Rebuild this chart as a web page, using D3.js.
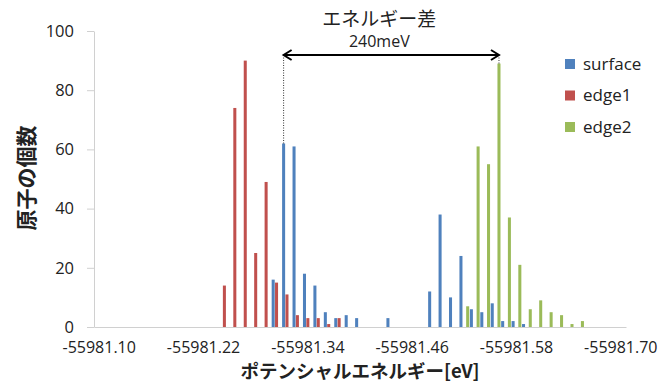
<!DOCTYPE html>
<html>
<head>
<meta charset="utf-8">
<script src="https://cdn.jsdelivr.net/npm/d3@7"></script>
<style>
  body { margin: 0; background: #fff; }
  svg { display: block; }
  text { font-family: "Open Sans", "Liberation Sans", sans-serif; fill: #222; }
  .jp { font-family: "Noto Sans CJK JP", "Noto Sans", sans-serif; }
</style>
</head>
<body>
<svg id="viz_area" width="665" height="382"></svg>
<script>
// ビンのエネルギー (eV)
const energies = [
  -55981.100, -55981.112, -55981.124, -55981.136, -55981.148, -55981.160,
  -55981.172, -55981.184, -55981.196, -55981.208, -55981.220, -55981.232,
  -55981.244, -55981.256, -55981.268, -55981.280, -55981.292, -55981.304,
  -55981.316, -55981.328, -55981.340, -55981.352, -55981.364, -55981.376,
  -55981.388, -55981.400, -55981.412, -55981.424, -55981.436, -55981.448,
  -55981.460, -55981.472, -55981.484, -55981.496, -55981.508, -55981.520,
  -55981.532, -55981.544, -55981.556, -55981.568, -55981.580, -55981.592,
  -55981.604, -55981.616, -55981.628, -55981.640, -55981.652, -55981.664,
  -55981.676, -55981.688, -55981.700
]
const tickLabels = ["-55981.10", "-55981.22", "-55981.34", "-55981.46", "-55981.58", "-55981.70"]
const yTicks = [0, 20, 40, 60, 80, 100]

const seriesNames = ["surface", "edge1", "edge2"]
const surface = [0,0,0,0,0,0,0,0,0,0,0,0,0,0,0,0,0,16,62,61,18,14,5,3,4,3,0,0,3,0,0,0,12,38,10,24,6,5,8,2,2,1,0,0,0,0,0,0,0,0,0]
const edge1   = [0,0,0,0,0,0,0,0,0,0,0,0,14,74,90,25,49,15,11,4,3,3,1,3,0,0,0,0,0,0,0,0,0,0,0,0,0,0,0,0,0,0,0,0,0,0,0,0,0,0,0]
const edge2   = [0,0,0,0,0,0,0,0,0,0,0,0,0,0,0,0,0,0,0,0,0,0,0,0,0,0,0,0,0,0,0,0,0,0,0,7,61,55,89,37,21,6,9,5,4,1,2,0,0,0,0]
const colors = ["#4F81BD", "#C0504D", "#9BBB59"]

var svg = d3.select("#viz_area")
var series = [surface, edge1, edge2]

var x0 = d3.scaleBand().domain(energies).range([94, 626]).padding(0)
var x1 = d3.scaleBand().domain(seriesNames).range([0, x0.bandwidth()]).padding(0.1)
var y = d3.scaleLinear().domain([0, 100]).range([327, 31])

// bars
seriesNames.forEach(function (name, s) {
  svg.append("g").selectAll("rect")
    .data(series[s].map(function (v, i) { return { e: energies[i], v: v } }).filter(function (d) { return d.v > 0 }))
    .enter().append("rect")
    .attr("x", function (d) { return x0(d.e) + x1(name) })
    .attr("width", x1.bandwidth())
    .attr("y", function (d) { return y(d.v) })
    .attr("height", function (d) { return y(0) - y(d.v) })
    .style("fill", colors[s])
})

// y axis
var yAxis = svg.append("g").attr("transform", "translate(94,0)")
  .call(d3.axisLeft(y).tickValues(yTicks).tickSize(7).tickSizeOuter(0).tickPadding(13))
yAxis.select(".domain").attr("stroke", "#D0D0D0")
yAxis.selectAll(".tick line").attr("stroke", "#D0D0D0")
yAxis.selectAll("text").style("font-size", "16.5px").style("font-family", "Open Sans").attr("fill", "#222")

// x axis
var xAxis = svg.append("g").attr("transform", "translate(0,327)")
  .call(d3.axisBottom(x0)
    .tickValues(energies.filter(function (e, i) { return i % 10 === 0 }))
    .tickFormat(function (e, i) { return tickLabels[i] })
    .tickSize(0).tickPadding(15))
xAxis.select(".domain").attr("stroke", "#D0D0D0")
xAxis.selectAll("text").style("font-size", "16px").style("font-family", "Open Sans").attr("fill", "#222")

// axis titles
svg.append("text").attr("class", "jp")
  .attr("transform", "translate(34,178) rotate(-90)")
  .attr("text-anchor", "middle")
  .style("font-size", "21px").style("font-weight", "bold")
  .text("原子の個数")

svg.append("text").attr("class", "jp")
  .attr("x", 360).attr("y", 378)
  .attr("text-anchor", "middle")
  .style("font-size", "18.5px").style("font-weight", "bold")
  .text("ポテンシャルエネルギー[eV]")

// legend
var legend = svg.append("g")
seriesNames.forEach(function (name, s) {
  var g = legend.append("g").attr("transform", "translate(565," + (64 + s * 31.5) + ")")
  g.append("rect").attr("x", 0).attr("y", -5).attr("width", 10).attr("height", 10).style("fill", colors[s])
  g.append("text").attr("x", 18).attr("dy", "0.35em").style("font-size", "17px").text(name)
})

// energy difference annotation (surface peak -> edge2 peak)
var iLeft = surface.indexOf(d3.max(surface))
var iRight = edge2.indexOf(d3.max(edge2))
var xl = x0(energies[iLeft]) + x1("surface") + x1.bandwidth() / 2
var xr = x0(energies[iRight]) + x1("edge2") + x1.bandwidth() / 2
var ay = 55

svg.append("line").attr("x1", xl).attr("x2", xl).attr("y1", ay).attr("y2", y(surface[iLeft]))
  .attr("stroke", "#333").attr("stroke-width", 1).attr("stroke-dasharray", "1,1.5")
svg.append("line").attr("x1", xr).attr("x2", xr).attr("y1", ay).attr("y2", y(edge2[iRight]))
  .attr("stroke", "#333").attr("stroke-width", 1).attr("stroke-dasharray", "1,1.5")

svg.append("line").attr("x1", xl).attr("x2", xr).attr("y1", ay).attr("y2", ay)
  .attr("stroke", "#000").attr("stroke-width", 2)
svg.append("path").attr("d", "M" + (xl + 8) + "," + (ay - 5) + "L" + xl + "," + ay + "L" + (xl + 8) + "," + (ay + 5))
  .attr("fill", "none").attr("stroke", "#000").attr("stroke-width", 2)
svg.append("path").attr("d", "M" + (xr - 8) + "," + (ay - 5) + "L" + xr + "," + ay + "L" + (xr - 8) + "," + (ay + 5))
  .attr("fill", "none").attr("stroke", "#000").attr("stroke-width", 2)

var tx = (xl + xr) / 2 - 12
svg.append("text").attr("class", "jp")
  .attr("x", tx).attr("y", 26).attr("text-anchor", "middle")
  .style("font-size", "19px").text("エネルギー差")
svg.append("text")
  .attr("x", tx).attr("y", 47).attr("text-anchor", "middle")
  .style("font-size", "16px").text("240meV")
</script>
</body>
</html>
